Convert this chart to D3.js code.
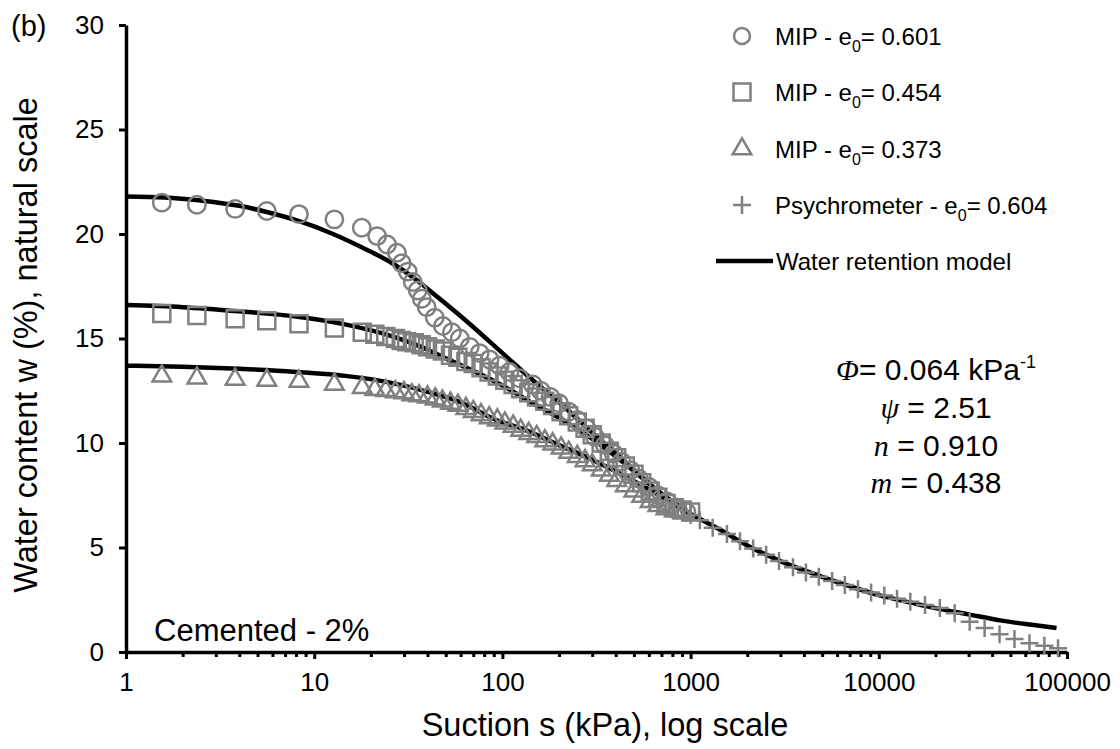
<!DOCTYPE html>
<html>
<head>
<meta charset="utf-8">
<script src="https://cdn.jsdelivr.net/npm/d3@7"></script>
<style>
body { margin: 0; background: #fff; }
text { font-family: Arial, "Liberation Sans", sans-serif; fill: #000; }
</style>
</head>
<body>
<div class="chart"></div>
<script>
// tick labels
const xTicks = [1, 10, 100, 1000, 10000, 100000];
const yTicks = [0, 5, 10, 15, 20, 25, 30];

// measured points [suction kPa, water content %]
const mip601 = [[1.55,21.5],[2.38,21.4],[3.8,21.2],[5.6,21.1],[8.3,20.95],[12.8,20.7],[17.9,20.3],[21.6,19.9],[24.4,19.5],[27.5,19.1],[29.2,18.6],[31.4,18.2],[33.4,17.7],[35.5,17.3],[37.3,16.9],[39.6,16.5],[43.7,16.0],[48.3,15.6],[53.9,15.3],[59.4,15.0],[67.1,14.6],[75.7,14.3],[85.5,14.0],[96.6,13.7],[109,13.4],[123,13.1],[145,12.8],[160,12.5],[180,12.2],[200,11.9],[225,11.5],[250,11.1],[280,10.7],[310,10.3],[350,9.9],[390,9.5],[430,9.1],[480,8.7],[530,8.3],[600,7.9],[670,7.5],[750,7.2],[850,6.9],[950,6.7]];
const mip454 = [[1.55,16.2],[2.38,16.1],[3.8,15.95],[5.6,15.85],[8.3,15.7],[12.8,15.5],[18,15.3],[21,15.2],[24,15.1],[27,15.0],[29,14.9],[31,14.85],[34,14.8],[37,14.7],[40,14.6],[44,14.5],[48,14.4],[53,14.2],[58,14.1],[64,13.9],[70,13.8],[77,13.6],[85,13.4],[94,13.2],[103,13.0],[114,12.8],[125,12.6],[138,12.4],[152,12.2],[168,12.0],[185,11.8],[205,11.5],[225,11.3],[250,11.0],[275,10.7],[300,10.4],[335,10.0],[370,9.6],[405,9.3],[450,8.9],[500,8.5],[550,8.1],[610,7.7],[670,7.4],[740,7.1],[820,6.9],[900,6.8],[1000,6.7]];
const mip373 = [[1.55,13.2],[2.38,13.1],[3.8,13.05],[5.6,13.0],[8.3,12.95],[12.8,12.8],[18,12.65],[21,12.55],[24,12.5],[27,12.45],[30,12.4],[33,12.3],[36,12.25],[40,12.2],[44,12.1],[48,12.0],[53,11.9],[58,11.8],[64,11.65],[70,11.5],[77,11.35],[85,11.2],[94,11.1],[103,10.95],[114,10.8],[125,10.6],[138,10.45],[152,10.3],[168,10.1],[185,9.95],[205,9.75],[225,9.55],[250,9.35],[275,9.15],[300,8.95],[335,8.7],[370,8.45],[405,8.2],[450,7.95],[500,7.7],[550,7.45],[610,7.2],[670,7.0],[740,6.85],[820,6.75],[900,6.7]];
const psychro604 = [[1000,6.55],[1120,6.3],[1310,5.95],[1560,5.65],[1830,5.3],[2150,4.95],[2520,4.65],[2950,4.35],[3500,4.05],[4100,3.8],[4800,3.6],[5650,3.4],[6600,3.2],[7750,3.0],[9100,2.85],[10700,2.7],[12500,2.55],[14700,2.4],[17600,2.25],[21100,2.1],[25300,1.85],[30400,1.45],[36500,1.15],[43800,0.85],[52600,0.62],[63200,0.42],[75800,0.3],[89600,0.18]];

// water retention model curves
const model601 = [[1,21.8],[1.6,21.75],[2.5,21.6],[4,21.35],[5.6,21.05],[8.4,20.6],[12.6,20.0],[18,19.35],[26,18.6],[35,17.8],[45,17.0],[65,15.8],[100,14.3],[145,13.0],[200,11.95],[300,10.5],[450,9.1],[650,7.8],[1000,6.6]];
const model454 = [[1,16.6],[2,16.5],[4,16.3],[8,16.05],[15,15.65],[25,15.15],[37,14.6],[50,14.05],[70,13.45],[100,12.75],[145,11.9],[200,11.2],[300,10.2],[450,9.0],[650,7.8],[1000,6.6]];
const model373 = [[1,13.7],[2,13.65],[4,13.55],[8,13.4],[15,13.2],[25,12.9],[40,12.45],[60,11.95],[90,11.15],[130,10.65],[200,9.9],[300,9.2],[450,8.4],[650,7.6],[1000,6.6]];
const modelTail = [[1000,6.6],[1500,5.75],[2000,5.1],[3000,4.35],[5000,3.6],[7000,3.15],[10000,2.72],[15000,2.35],[20000,2.1],[30000,1.8],[45000,1.5],[65000,1.3],[88000,1.15]];

const legendLabels = ["MIP - e", "MIP - e", "MIP - e", "Psychrometer - e"];
const legendValues = ["= 0.601", "= 0.454", "= 0.373", "= 0.604"];

const width = 1120;
const height = 749;
const grey = "#808080";

const svg = d3.select('.chart')
	.append('svg')
	.attr('width', width)
	.attr('height', height)

const x = d3.scaleLog().domain([1, 100000]).range([126, 1067]);
const y = d3.scaleLinear().domain([0, 30]).range([652, 25]);

// minor ticks on the log axis
const minor = x.ticks().filter(function(d) {
	return xTicks.indexOf(d) < 0;
});
svg.append('g')
	.attr('transform', 'translate(0,652)')
	.call(d3.axisBottom(x).tickValues(minor).tickSize(5).tickSizeOuter(0).tickFormat(''))
	.call(g => g.select('.domain').remove())
	.call(g => g.selectAll('line').attr('stroke', '#000').attr('stroke-width', 3));

let xAxis = svg.append('g')
	.attr('transform', 'translate(0,652)')
	.call(d3.axisBottom(x).tickValues(xTicks).tickSize(7).tickSizeOuter(0).tickPadding(14).tickFormat(d3.format('d')))
xAxis.select('.domain').attr('stroke', '#000').attr('stroke-width', 3.5)
xAxis.selectAll('line').attr('stroke', '#000').attr('stroke-width', 3)
xAxis.selectAll('text').attr('font-size', '26px').attr('font-family', 'Arial, "Liberation Sans", sans-serif').attr('fill', '#000')

let yAxis = svg.append('g')
	.attr('transform', 'translate(126,0)')
	.call(d3.axisLeft(y).tickValues(yTicks).tickSize(7).tickSizeOuter(0).tickPadding(15))
yAxis.select('.domain').attr('stroke', '#000').attr('stroke-width', 3.5)
yAxis.selectAll('line').attr('stroke', '#000').attr('stroke-width', 3)
yAxis.selectAll('text').attr('font-size', '26px').attr('font-family', 'Arial, "Liberation Sans", sans-serif').attr('fill', '#000')

// axis titles
svg.append('text')
	.text('Suction s (kPa), log scale')
	.attr('x', 605)
	.attr('y', 736)
	.attr('text-anchor', 'middle')
	.attr('font-size', '32.5px');
svg.append('text')
	.text('Water content w (%), natural scale')
	.attr('transform', 'translate(37,345) rotate(-90)')
	.attr('text-anchor', 'middle')
	.attr('font-size', '32.5px');

svg.append('text').text('(b)').attr('x', 11).attr('y', 36).attr('font-size', '29px');
svg.append('text').text('Cemented - 2%').attr('x', 154).attr('y', 641).attr('font-size', '31px');

// model lines
const line = d3.line()
	.x(d => x(d[0]))
	.y(d => y(d[1]))
	.curve(d3.curveMonotoneX);
[model601, model454, model373, modelTail].forEach(function(m) {
	svg.append('path')
		.attr('d', line(m))
		.attr('fill', 'none')
		.attr('stroke', '#000')
		.attr('stroke-width', 4.5);
});

// markers
const shapes = {
	circle: d3.symbol(d3.symbolCircle, Math.PI * 8.7 * 8.7)(),
	square: d3.symbol(d3.symbolSquare, 17 * 17)(),
	triangle: d3.symbol(d3.symbolTriangle, 150)(),
	plus: 'M-9,0H9M0,-9V9'
};
const series = [
	{data: mip601, shape: 'circle'},
	{data: mip454, shape: 'square'},
	{data: mip373, shape: 'triangle'},
	{data: psychro604, shape: 'plus'}
];
series.forEach(function(s) {
	svg.append('g').selectAll('path')
		.data(s.data)
		.enter()
		.append('path')
		.attr('d', shapes[s.shape])
		.attr('transform', d => 'translate(' + x(d[0]) + ',' + y(d[1]) + ')')
		.attr('fill', 'none')
		.attr('stroke', grey)
		.attr('stroke-width', 2.5);
});

// legend
const legendY = [36, 92, 149, 205];
series.forEach(function(s, i) {
	svg.append('path')
		.attr('d', s.shape == 'circle' ? d3.symbol(d3.symbolCircle, Math.PI * 8 * 8)() : shapes[s.shape])
		.attr('transform', 'translate(742,' + legendY[i] + ')')
		.attr('fill', 'none')
		.attr('stroke', grey)
		.attr('stroke-width', 2.5);
	let t = svg.append('text')
		.attr('x', 775)
		.attr('y', legendY[i] + 9)
		.attr('font-size', '24px');
	t.append('tspan').text(legendLabels[i]);
	t.append('tspan').text('0').attr('font-size', '16px').attr('dy', 7);
	t.append('tspan').text(legendValues[i]).attr('dy', -7);
});
svg.append('line')
	.attr('x1', 716).attr('x2', 773)
	.attr('y1', 261).attr('y2', 261)
	.attr('stroke', '#000').attr('stroke-width', 4.5);
svg.append('text').text('Water retention model').attr('x', 776).attr('y', 270).attr('font-size', '24px');

// parameter annotation
const paramSymbols = ['\u03A6', '\u03C8', 'n', 'm'];
const paramValues = ['= 0.064 kPa', ' = 2.51', ' = 0.910', ' = 0.438'];
const paramY = [380, 418, 456, 493];
paramSymbols.forEach(function(p, i) {
	let t = svg.append('text')
		.attr('x', 936)
		.attr('y', paramY[i])
		.attr('text-anchor', 'middle')
		.attr('font-size', '30px');
	t.append('tspan').text(p).attr('font-family', '"Liberation Serif", "Times New Roman", serif').attr('font-style', 'italic');
	t.append('tspan').text(paramValues[i]);
	if (i == 0) {
		t.append('tspan').text('-1').attr('font-size', '18px').attr('dy', -12);
	}
});
</script>
</body>
</html>
